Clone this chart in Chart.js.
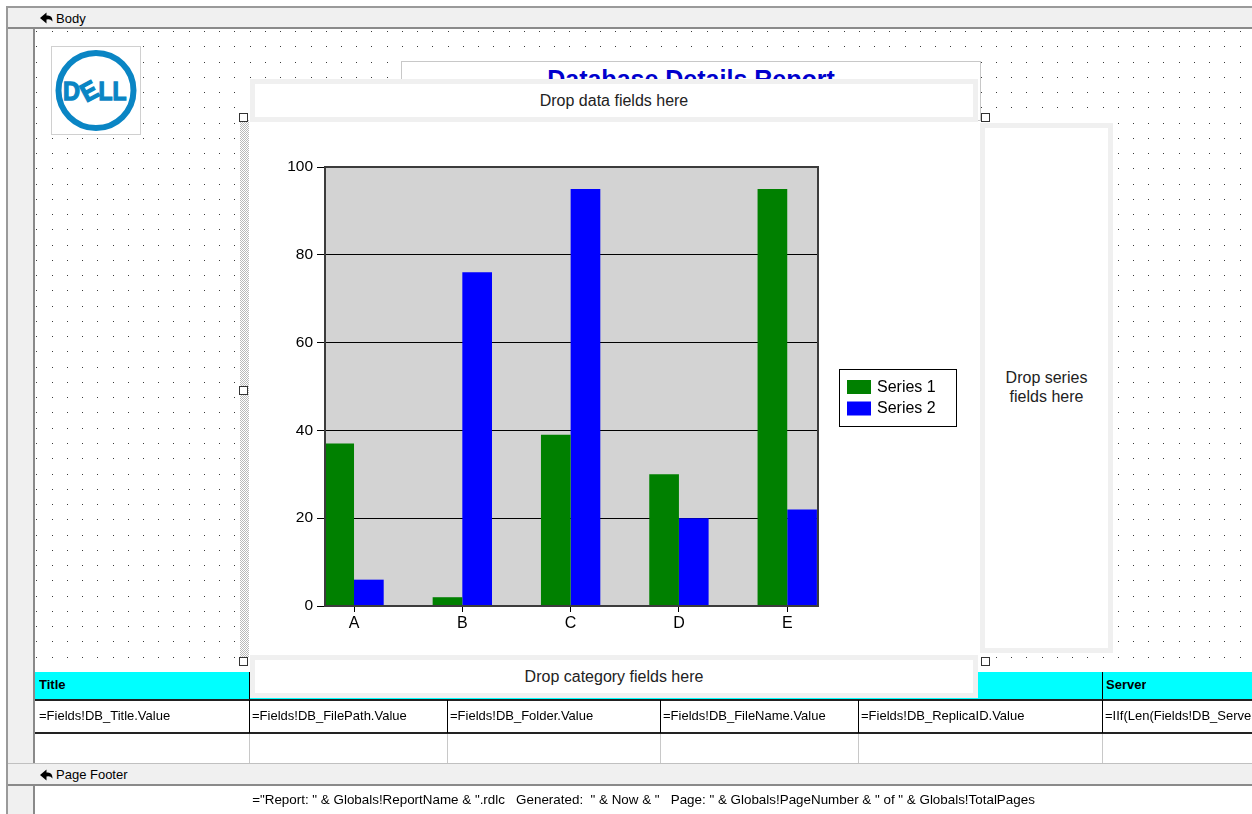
<!DOCTYPE html>
<html>
<head>
<meta charset="utf-8">
<title>Database Details Report - Design</title>
<script src="https://cdn.jsdelivr.net/npm/chart.js@4.4.1/dist/chart.umd.min.js"></script>
<style>
  html, body { margin: 0; padding: 0; }
  body { width: 1252px; height: 814px; position: relative; overflow: hidden; background: #fff;
         font-family: "Liberation Sans", Arial, sans-serif; color: #000; }
  .abs { position: absolute; box-sizing: border-box; }
  #bg { position: absolute; left: 0; top: 0; }
  .bar { background: #f0f0f0; }
  .secLabel { font-size: 13px; line-height: 16px; white-space: nowrap; }
  .drop { background: #fff; border: 5px solid #f0f0f0; font-size: 16px; color: #222;
          display: flex; align-items: center; justify-content: center; text-align: center; }
  .handle { width: 9px; height: 9px; background: #fff; border: 1px solid #333; }
  .cell { font-size: 13px; line-height: 16px; white-space: nowrap; overflow: hidden; }
  .hdr { font-weight: bold; }
</style>
</head>
<body>
<canvas id="bg" width="1252" height="814"></canvas>

<!-- designer frame -->
<div class="abs" style="left:6px;top:6px;width:2px;height:808px;background:#9a9a9a"></div>
<div class="abs" style="left:6px;top:6px;width:1246px;height:2px;background:#9a9a9a"></div>
<div class="abs bar" style="left:8px;top:8px;width:1244px;height:19px"></div>
<div class="abs" style="left:8px;top:27px;width:1244px;height:2px;background:#8a8a8a"></div>
<svg class="abs" style="left:40px;top:12px" width="13" height="12" viewBox="0 0 13 12">
  <path d="M0,6 L6.5,0.5 L6.5,3.5 Q12.5,2.5 12.5,9.5 Q10.5,6.5 6.5,7.5 L6.5,11.5 Z" fill="#000"/>
</svg>
<div class="abs secLabel" style="left:56px;top:11px">Body</div>

<div class="abs bar" style="left:8px;top:29px;width:26px;height:735px"></div>
<div class="abs" style="left:33px;top:29px;width:2px;height:735px;background:#8a8a8a"></div>

<!-- logo -->
<div class="abs" style="left:51px;top:46px;width:90px;height:89px;background:#fff;border:1px solid #d0d0d0">
  <svg width="88" height="87" viewBox="0 0 88 87" style="position:absolute;left:0;top:0">
    <circle cx="44" cy="43.5" r="37.5" fill="none" stroke="#0a85c4" stroke-width="6"/>
    <g fill="#0a85c4" stroke="#0a85c4" stroke-width="1.3" font-family="Liberation Sans, Arial, sans-serif" font-weight="bold" font-size="26">
      <text x="11" y="53" textLength="17" lengthAdjust="spacingAndGlyphs">D</text>
      <text x="29" y="53" textLength="16" lengthAdjust="spacingAndGlyphs" transform="rotate(-28 37 44)">E</text>
      <text x="46.5" y="53" textLength="28" lengthAdjust="spacingAndGlyphs">LL</text>
    </g>
  </svg>
</div>

<!-- report title -->
<div class="abs" style="left:401px;top:61px;width:580px;height:60px;background:#fff;border:1px solid #c8c8c8;overflow:hidden">
  <div style="position:absolute;left:0;right:0;top:2px;text-align:center;font-weight:bold;font-size:25px;line-height:30px;color:#0000cd">Database Details Report</div>
</div>

<!-- chart surface -->
<div class="abs" style="left:249px;top:122px;width:731px;height:534px;background:#fff"></div>
<canvas id="chart" class="abs" style="left:250px;top:122px" width="730" height="533"></canvas>

<div class="abs drop" style="left:250px;top:79px;width:728px;height:43px">Drop data fields here</div>
<div class="abs drop" style="left:980px;top:123px;width:133px;height:530px;line-height:19px;padding-bottom:2px">Drop series<br>fields here</div>

<!-- table -->
<div class="abs" style="left:35px;top:672px;width:1217px;height:28px;background:#00ffff"></div>
<div class="abs cell hdr" style="left:39px;top:677px">Title</div>
<div class="abs cell hdr" style="left:1106px;top:677px">Server</div>
<div class="abs" style="left:1102px;top:672px;width:1px;height:28px;background:#000"></div>
<div class="abs" style="left:249px;top:672px;width:1px;height:28px;background:#000"></div>
<div class="abs" style="left:35px;top:699px;width:1217px;height:2px;background:#222"></div>
<div class="abs" style="left:35px;top:732px;width:1217px;height:2px;background:#222"></div>
<div id="cols"></div>
<div class="abs cell" style="left:39px;top:708px">=Fields!DB_Title.Value</div>
<div class="abs cell" style="left:252px;top:708px">=Fields!DB_FilePath.Value</div>
<div class="abs cell" style="left:450px;top:708px">=Fields!DB_Folder.Value</div>
<div class="abs cell" style="left:663px;top:708px">=Fields!DB_FileName.Value</div>
<div class="abs cell" style="left:861px;top:708px">=Fields!DB_ReplicaID.Value</div>
<div class="abs cell" style="left:1105px;top:708px">=IIf(Len(Fields!DB_Server.Value) &gt; 0, Fields!DB_Server.Value, "")</div>

<div class="abs drop" style="left:250px;top:655px;width:728px;height:43px">Drop category fields here</div>

<!-- selection handles -->
<div class="abs handle" style="left:239px;top:113px"></div>
<div class="abs handle" style="left:981px;top:113px"></div>
<div class="abs handle" style="left:239px;top:386px"></div>
<div class="abs handle" style="left:239px;top:657px"></div>
<div class="abs handle" style="left:981px;top:657px"></div>

<!-- page footer -->
<div class="abs" style="left:8px;top:763px;width:1244px;height:1px;background:#c0c0c0"></div>
<div class="abs bar" style="left:8px;top:764px;width:1244px;height:20px"></div>
<div class="abs" style="left:8px;top:784px;width:1244px;height:2px;background:#8a8a8a"></div>
<svg class="abs" style="left:40px;top:769px" width="13" height="12" viewBox="0 0 13 12">
  <path d="M0,6 L6.5,0.5 L6.5,3.5 Q12.5,2.5 12.5,9.5 Q10.5,6.5 6.5,7.5 L6.5,11.5 Z" fill="#000"/>
</svg>
<div class="abs secLabel" style="left:56px;top:767px">Page Footer</div>
<div class="abs bar" style="left:8px;top:786px;width:26px;height:28px"></div>
<div class="abs" style="left:33px;top:786px;width:2px;height:28px;background:#8a8a8a"></div>
<div class="abs cell" style="left:35px;width:1217px;top:792px;text-align:center;white-space:pre;font-size:13.4px">="Report: " &amp; Globals!ReportName &amp; ".rdlc   Generated:  " &amp; Now &amp; "   Page: " &amp; Globals!PageNumber &amp; " of " &amp; Globals!TotalPages</div>

<script>
// ---- chart data ----
const categories = ['A', 'B', 'C', 'D', 'E'];
const seriesNames = ['Series 1', 'Series 2'];
const series1 = [37, 2, 39, 30, 95];
const series2 = [6, 76, 95, 20, 22];
const yTickValues = [0, 20, 40, 60, 80, 100];
const seriesColors = ['#008000', '#0000ff'];

// ---- designer surface: dot grid and selection stripe ----
(function drawSurface() {
  const c = document.getElementById('bg');
  const g = c.getContext('2d');
  g.fillStyle = '#fff';
  g.fillRect(0, 0, c.width, c.height);
  g.fillStyle = '#3a3a3a';
  for (let y = 31; y < 668; y += 15.26) {
    for (let x = 36.4; x < 1252; x += 15.23) {
      g.fillRect(Math.round(x), Math.round(y), 1, 1);
    }
  }
  g.fillStyle = '#fff';
  g.fillRect(239, 118, 10, 542);
  g.fillStyle = '#b8b8b8';
  for (let y = 120; y < 658; y++) {
    for (let x = 240; x < 249; x++) {
      if ((x + y) % 2 === 0) g.fillRect(x, y, 1, 1);
    }
  }
})();

// ---- table column separators ----
(function drawColumns() {
  const xs = [249, 447, 660, 858, 1102];
  const host = document.getElementById('cols');
  xs.forEach(x => {
    host.insertAdjacentHTML('beforeend',
      `<div class="abs" style="left:${x}px;top:700px;width:1px;height:33px;background:#000"></div>` +
      `<div class="abs" style="left:${x}px;top:734px;width:1px;height:29px;background:#c8c8c8"></div>`);
  });
})();

// ---- chart ----
const FONT = '"Liberation Sans", Arial, sans-serif';

const plotBackground = {
  id: 'plotBackground',
  beforeDraw(chart) {
    const a = chart.chartArea, g = chart.ctx;
    g.save();
    g.fillStyle = '#d3d3d3';
    g.fillRect(a.left, a.top, a.right - a.left, a.bottom - a.top);
    g.restore();
  }
};

const plotFrame = {
  id: 'plotFrame',
  afterDatasetsDraw(chart) {
    const a = chart.chartArea, g = chart.ctx;
    g.save();
    g.strokeStyle = '#3c3c3c';
    g.lineWidth = 2;
    g.strokeRect(a.left, a.top, a.right - a.left, a.bottom - a.top);
    g.restore();
  }
};

const legendBox = {
  id: 'legendBox',
  afterDraw(chart) {
    const g = chart.ctx;
    const x = chart.chartArea.right + 21, y = 247, w = 118, h = 58;
    g.save();
    g.fillStyle = '#fff';
    g.fillRect(x, y, w, h);
    g.strokeStyle = '#000';
    g.lineWidth = 1;
    g.strokeRect(x + 0.5, y + 0.5, w - 1, h - 1);
    g.font = '16px ' + FONT;
    g.textBaseline = 'middle';
    chart.data.datasets.forEach((ds, i) => {
      const rowY = y + 11 + i * 21.5;
      g.fillStyle = ds.backgroundColor;
      g.fillRect(x + 8, rowY, 24, 14);
      g.fillStyle = '#000';
      g.fillText(ds.label, x + 38, rowY + 7.5);
    });
    g.restore();
  }
};

const toPoints = arr => arr.map((v, i) => ({ x: i, y: v }));

new Chart(document.getElementById('chart'), {
  type: 'bar',
  data: {
    datasets: [
      { label: seriesNames[0], data: toPoints(series1), backgroundColor: seriesColors[0] },
      { label: seriesNames[1], data: toPoints(series2), backgroundColor: seriesColors[1] }
    ]
  },
  options: {
    responsive: false,
    animation: false,
    devicePixelRatio: 1,
    datasets: { bar: { categoryPercentage: 0.548, barPercentage: 1, borderWidth: 0 } },
    layout: { padding: { left: 0, top: 45, right: 162, bottom: 0 } },
    plugins: { legend: { display: false }, tooltip: { enabled: false } },
    scales: {
      x: {
        type: 'linear',
        offset: false,
        min: -0.268,
        max: 4.284,
        afterBuildTicks: s => { s.ticks = categories.map((c, i) => ({ value: i })); },
        afterFit: s => { s.height = 49; },
        ticks: {
          callback: v => categories[v],
          color: '#000',
          font: { family: FONT, size: 16 },
          padding: 2,
          maxRotation: 0,
          autoSkip: false
        },
        grid: { offset: false, drawOnChartArea: false, drawTicks: true, tickLength: 6, color: '#000' },
        border: { display: false }
      },
      y: {
        min: 0,
        max: 100,
        afterBuildTicks: s => { s.ticks = yTickValues.map(v => ({ value: v })); },
        afterFit: s => { s.width = 75; },
        ticks: {
          color: '#000',
          font: { family: FONT, size: 15.5 },
          padding: 4
        },
        grid: { color: '#000', lineWidth: 1, tickLength: 8 },
        border: { display: false }
      }
    }
  },
  plugins: [plotBackground, plotFrame, legendBox]
});
</script>
</body>
</html>
